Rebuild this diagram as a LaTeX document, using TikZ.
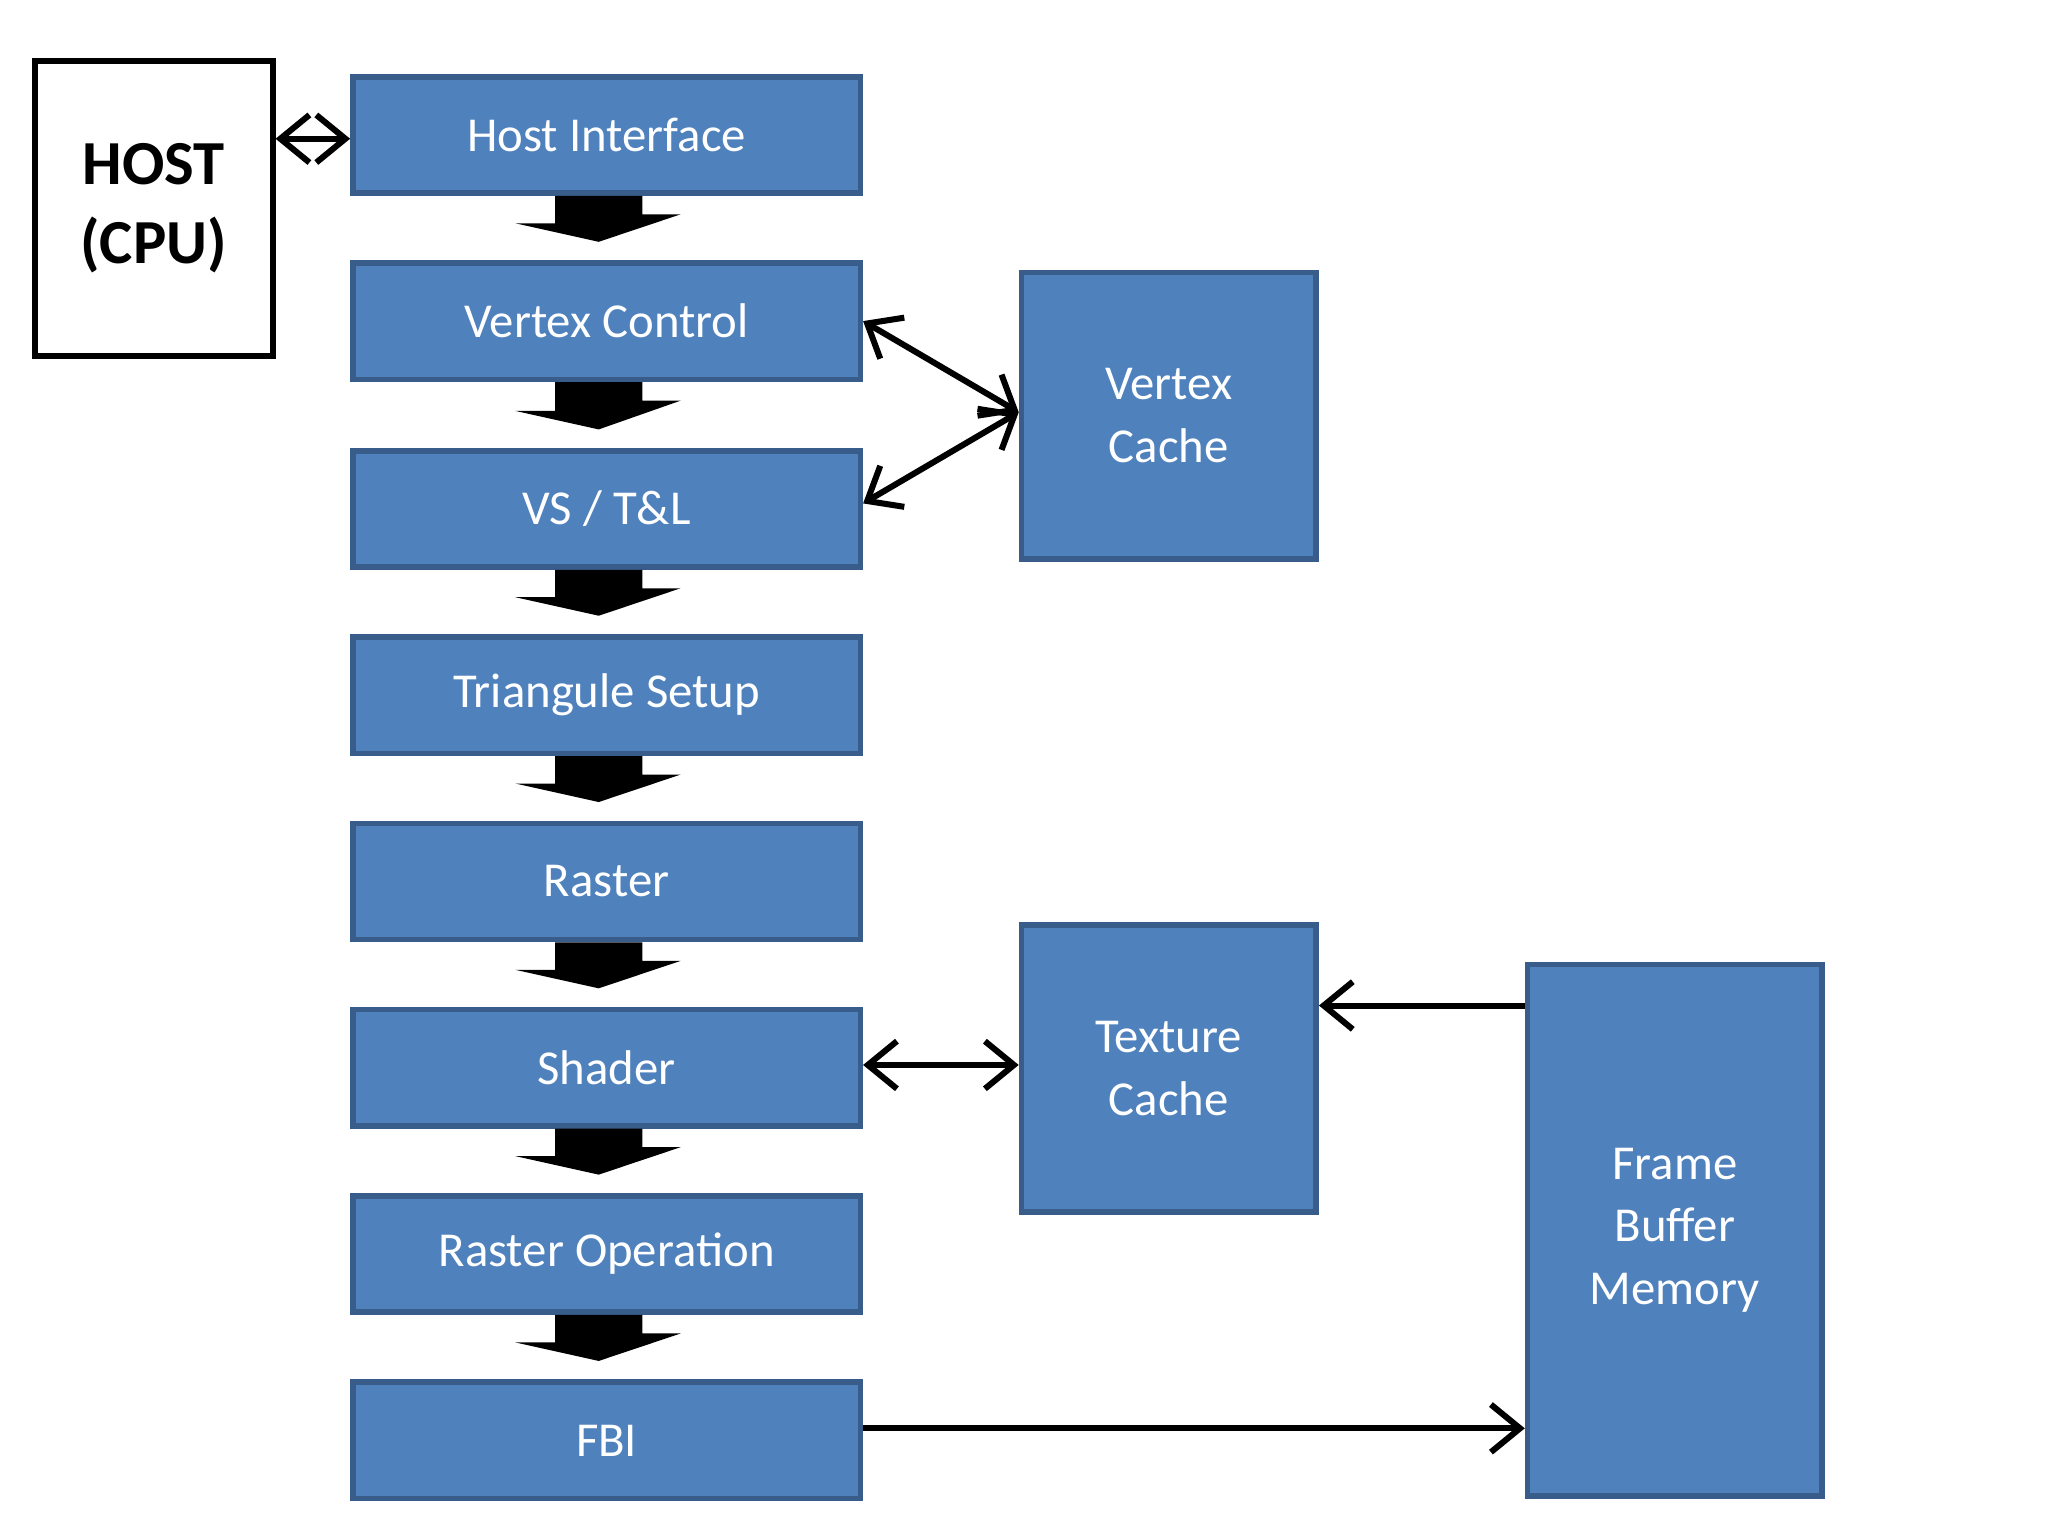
\documentclass[tikz,border=0pt]{standalone}
\usepackage{fontspec}
\setmainfont{Carlito}
\usetikzlibrary{arrows.meta}
\definecolor{BoxBlue}{RGB}{79,129,189}
\definecolor{BoxEdge}{RGB}{56,93,138}
\begin{document}
\begin{tikzpicture}[
    stage/.style={rectangle, draw=BoxEdge, line width=1.2pt, fill=BoxBlue, text=white, minimum width=3.84cm, minimum height=0.88cm, font=\fontsize{10.5}{12}\selectfont, anchor=north west},
    side/.style={stage, minimum width=2.23cm, align=center, font=\fontsize{10.5}{13.5}\selectfont},
    link/.style={{Straight Barb[length=2.2mm,width=3.6mm]}-{Straight Barb[length=2.2mm,width=3.6mm]}, line width=1.3pt},
    oneway/.style={-{Straight Barb[length=2.2mm,width=3.6mm]}, line width=1.3pt}
  ]
  \useasboundingbox (0,0) rectangle (15.5,-11.6);
  \node (host) [draw=black, line width=1.3pt, minimum width=1.8cm, minimum height=2.23cm, anchor=north west, align=center, font=\fontsize{13.5}{17}\selectfont\bfseries] at (0.24,-0.44) {HOST\\(CPU)};
  \node (hi)  [stage] at (2.65,-0.56) {Host Interface};
  \node (vc)  [stage] at (2.65,-1.97) {Vertex Control};
  \node (vs)  [stage] at (2.65,-3.39) {VS / T\&L};
  \node (ts)  [stage] at (2.65,-4.80) {Triangule Setup};
  \node (ras) [stage] at (2.65,-6.21) {Raster};
  \node (sh)  [stage] at (2.65,-7.62) {Shader};
  \node (rop) [stage] at (2.65,-9.03) {Raster Operation};
  \node (fbi) [stage] at (2.65,-10.44) {FBI};
  \node (vcache) [side, minimum height=2.17cm] at (7.71,-2.04) {Vertex\\Cache};
  \node (tcache) [side, minimum height=2.17cm] at (7.71,-6.98) {Texture\\Cache};
  \node (fb) [side, minimum height=4.02cm] at (11.54,-7.28) {Frame\\Buffer\\Memory};

  % block arrows between stages
  \foreach \a/\b in {hi/vc, vc/vs, vs/ts, ts/ras, ras/sh, sh/rop, rop/fbi} {
    \fill ([xshift=-0.39cm]\a.south) -- ++(0.66,0) -- ++(0,-0.14) -- ++(0.29,0)
      -- ([xshift=-0.06cm,yshift=0.14cm]\b.north) -- ++(-0.63,0.14) -- ++(0.3,0) -- cycle;
  }

  \draw [link] (host.east |- 0,-1.05) -- (hi.west |- 0,-1.05);
  \draw [link] (vc.east |- 0,-2.43) -- (vcache.west |- 0,-3.12);
  \draw [link] (vs.east |- 0,-3.81) -- (vcache.west |- 0,-3.12);
  \draw [link] (sh.east |- 0,-8.06) -- (tcache.west |- 0,-8.06);
  \draw [oneway] (fb.west |- 0,-7.61) -- (tcache.east |- 0,-7.61);
  \draw [oneway] (fbi.east |- 0,-10.81) -- (fb.west |- 0,-10.81);
\end{tikzpicture}
\end{document}
